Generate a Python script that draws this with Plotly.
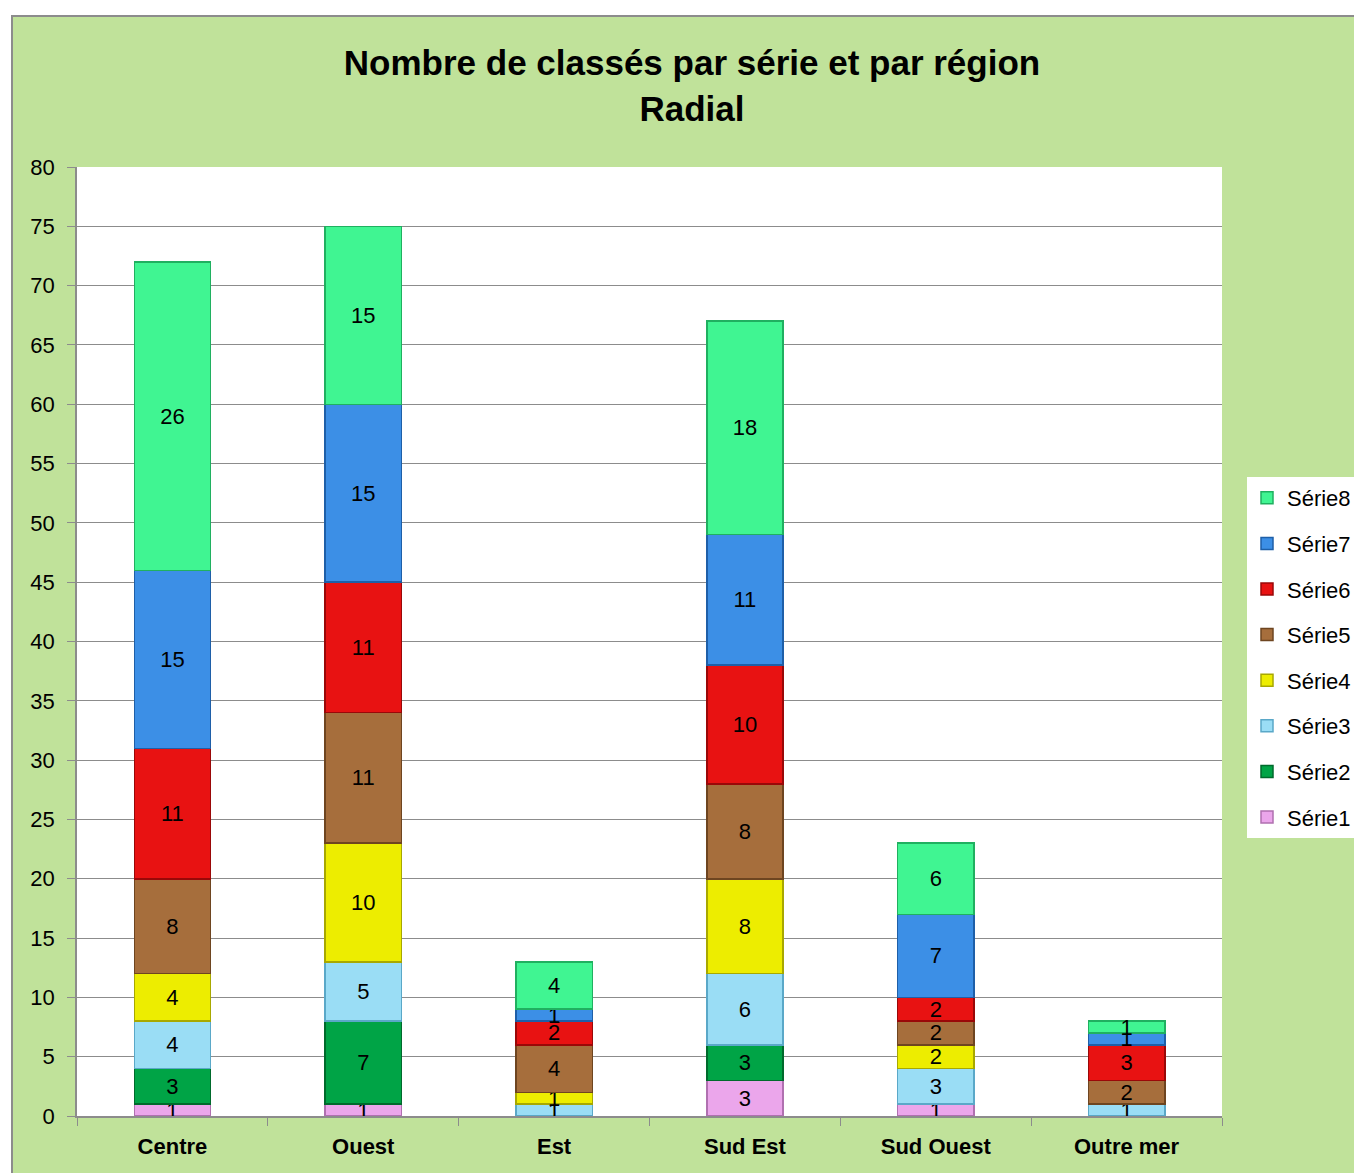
import plotly.graph_objects as go

regions = ["Centre", "Ouest", "Est", "Sud Est", "Sud Ouest", "Outre mer"]
serie1 = [1, 1, 0, 3, 1, 0]
serie2 = [3, 7, 0, 3, 0, 0]
serie3 = [4, 5, 1, 6, 3, 1]
serie4 = [4, 10, 1, 8, 2, 0]
serie5 = [8, 11, 4, 8, 2, 2]
serie6 = [11, 11, 2, 10, 2, 3]
serie7 = [15, 15, 1, 11, 7, 1]
serie8 = [26, 15, 4, 18, 6, 1]

series = [
    ("Série1", serie1, "#EBA6EB", "#B070B0"),
    ("Série2", serie2, "#00A446", "#006A2C"),
    ("Série3", serie3, "#9ADDF5", "#5AA8C8"),
    ("Série4", serie4, "#EDED00", "#A8A800"),
    ("Série5", serie5, "#A66E3C", "#6E4520"),
    ("Série6", serie6, "#E81212", "#9A0808"),
    ("Série7", serie7, "#3C8FE6", "#1E5FA8"),
    ("Série8", serie8, "#40F592", "#20B060"),
]

FONT = "Liberation Sans, Arial, sans-serif"

fig = go.Figure()
n = len(series)
for i, (name, vals, col, edge) in enumerate(series):
    fig.add_trace(go.Bar(
        x=regions, y=vals, name=name,
        marker=dict(color=col, line=dict(color=edge, width=1.5)),
        text=[str(v) if v else "" for v in vals],
        textposition="inside", insidetextanchor="middle",
        constraintext="none", textangle=0,
        textfont=dict(family=FONT, size=22, color="black"),
        legendgroup=name, legendrank=n - i,
    ))

OFF = 8  # page body margin
W, H = 1362 - OFF, 1173 - OFF
L, T = 77 - OFF, 167 - OFF
pw, ph = 1145, 949
R = 0
B = H - T - ph
paper_w = W - L - R

def px(x):
    return (x - OFF - L) / paper_w

def py(y):
    return (T + ph - (y - OFF)) / ph

fig.update_layout(
    width=W, height=H,
    margin=dict(l=L, r=R, t=T, b=B),
    barmode="stack", bargap=0.6,
    paper_bgcolor="white", plot_bgcolor="rgba(0,0,0,0)",
    title=dict(
        text="<b>Nombre de classés par série et par région<br>Radial</b>",
        x=(692 - OFF) / W, xanchor="center", y=1 - 67 / H, yanchor="top",
        font=dict(family=FONT, size=35, color="black"),
    ),
    shapes=[
        dict(type="rect", xref="paper", yref="paper", layer="below",
             x0=px(12), x1=px(1380), y0=py(16), y1=py(1190),
             fillcolor="#C0E29A", line=dict(color="#8C8C8C", width=2)),
        dict(type="rect", xref="paper", yref="paper", layer="below",
             x0=0, x1=pw / paper_w, y0=0, y1=1,
             fillcolor="white", line=dict(width=0)),
    ],
    legend=dict(
        x=px(1247), xanchor="left", y=py(477), yanchor="top",
        bgcolor="white", traceorder="grouped", tracegroupgap=14,
        font=dict(family=FONT, size=22, color="black"),
        itemwidth=30,
    ),
    yaxis=dict(
        range=[0, 80], dtick=5, showgrid=True, gridcolor="#8C8C8C", gridwidth=1,
        showline=True, linecolor="#8C8C8C", linewidth=1.5,
        ticks="outside", ticklen=8, tickcolor="#8C8C8C",
        tickfont=dict(family=FONT, size=22, color="black"),
        ticklabelstandoff=8,
        zeroline=False,
    ),
    xaxis=dict(
        domain=[0, pw / paper_w],
        showline=True, linecolor="#8C8C8C", linewidth=1.5,
        ticks="outside", ticklen=8, tickcolor="#8C8C8C", tickson="boundaries",
        tickfont=dict(family=FONT, size=22, color="black"),
        tickprefix="<b>", ticksuffix="</b>",
        ticklabelstandoff=10,
    ),
)

fig.write_html("out.html")
